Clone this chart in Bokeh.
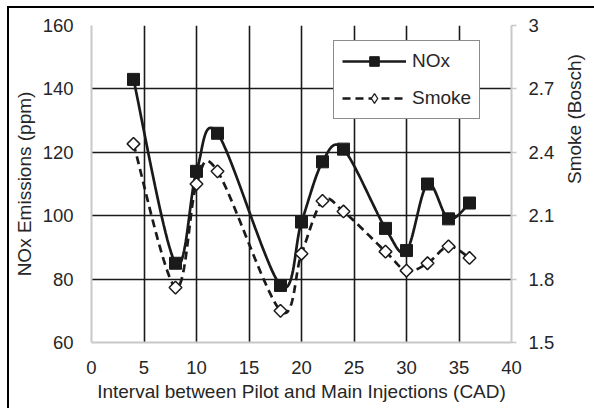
import math
from bokeh.plotting import figure
from bokeh.models import (Range1d, LinearAxis, FixedTicker, Legend, LegendItem,
                          CustomJSTickFormatter)
from bokeh.embed import file_html
from bokeh.resources import INLINE

# ---- data ----
interval = [4, 8, 10, 12, 18, 20, 22, 24, 28, 30, 32, 34, 36]
nox = [143, 85, 114, 126, 78, 98, 117, 121, 96, 89, 110, 99, 104]
smoke = [2.44, 1.76, 2.25, 2.31, 1.65, 1.92, 2.17, 2.12, 1.93, 1.84, 1.875, 1.955, 1.90]
x_ticks = [0, 5, 10, 15, 20, 25, 30, 35, 40]
nox_ticks = [60, 80, 100, 120, 140, 160]
smoke_ticks = [1.5, 1.8, 2.1, 2.4, 2.7, 3.0]


def smooth(xs, ys, n=24):
    """Excel-like smoothed line (Catmull-Rom -> cubic Bezier) through the data points."""
    pts = list(zip(xs, ys))
    ox, oy = [pts[0][0]], [pts[0][1]]
    for i in range(len(pts) - 1):
        p0 = pts[i - 1] if i > 0 else pts[i]
        p1 = pts[i]
        p2 = pts[i + 1]
        p3 = pts[i + 2] if i + 2 < len(pts) else pts[i + 1]
        c1 = (p1[0] + (p2[0] - p0[0]) / 6.0, p1[1] + (p2[1] - p0[1]) / 6.0)
        c2 = (p2[0] - (p3[0] - p1[0]) / 6.0, p2[1] - (p3[1] - p1[1]) / 6.0)
        for k in range(1, n + 1):
            t = k / n
            a = (1 - t) ** 3
            b = 3 * (1 - t) ** 2 * t
            c = 3 * (1 - t) * t ** 2
            d = t ** 3
            ox.append(a * p1[0] + b * c1[0] + c * c2[0] + d * p2[0])
            oy.append(a * p1[1] + b * c1[1] + c * c2[1] + d * p2[1])
    return ox, oy


TEXT = "#262626"
FONT = "Liberation Sans"
AXIS_GRAY = "#c8c8c8"
INK = "#1a1a1a"
TICK_FS = "18.5px"
TITLE_FS = "19px"

p = figure(frame_width=420, frame_height=317,
           min_border_left=82, min_border_right=80, min_border_top=17, min_border_bottom=66,
           x_range=Range1d(0, 40), y_range=Range1d(60, 160),
           output_backend="svg", toolbar_location=None)
p.styles = {"margin-left": "7px", "margin-top": "6px",
            "border-top": "2px solid black", "border-left": "2px solid black"}
p.outline_line_color = None
p.background_fill_color = "white"
p.border_fill_color = "white"

p.extra_y_ranges = {"smoke": Range1d(1.5, 3.0)}

# grids (black, interior only)
p.xgrid.ticker = FixedTicker(ticks=x_ticks[1:-1])
p.ygrid.ticker = FixedTicker(ticks=nox_ticks[1:])
for g in (p.xgrid, p.ygrid):
    g.grid_line_color = INK
    g.grid_line_width = 1.6

# bottom axis
xa = p.xaxis[0]
xa.ticker = FixedTicker(ticks=x_ticks)
xa.axis_label = "Interval between Pilot and Main Injections (CAD)"
# left axis
ya = p.yaxis[0]
ya.ticker = FixedTicker(ticks=nox_ticks)
ya.axis_label = "NOx Emissions (ppm)"

# right axis
ra = LinearAxis(y_range_name="smoke", ticker=FixedTicker(ticks=smoke_ticks),
                axis_label="Smoke (Bosch)",
                formatter=CustomJSTickFormatter(code="return String(Math.round(tick*10)/10);"))
p.add_layout(ra, "right")
try:
    ra.axis_label_orientation = math.pi / 2
except Exception:
    pass

for ax in (xa, ya, ra):
    ax.axis_line_color = AXIS_GRAY
    ax.axis_line_width = 2
    ax.major_tick_line_color = AXIS_GRAY
    ax.major_tick_line_width = 1.5
    ax.minor_tick_line_color = None
    ax.major_tick_in = 0
    ax.major_tick_out = 0
    ax.major_label_text_font = FONT
    ax.major_label_text_font_size = TICK_FS
    ax.major_label_text_color = TEXT
    ax.axis_label_text_font = FONT
    ax.axis_label_text_font_size = TITLE_FS
    ax.axis_label_text_font_style = "normal"
    ax.axis_label_text_color = TEXT

xa.major_label_standoff = 18
xa.axis_label_standoff = 4
ya.major_label_standoff = 18
ya.axis_label_standoff = 5
ra.major_tick_out = 5
ra.major_label_standoff = 12
ra.axis_label_standoff = 17

# series
xs, ys = smooth(interval, nox)
l1 = p.line(xs, ys, line_color=INK, line_width=2.7)
s1 = p.scatter(interval, nox, marker="square", size=12, fill_color=INK, line_color=INK)

xs2, ys2 = smooth(interval, smoke)
l2 = p.line(xs2, ys2, line_color=INK, line_width=2.7, line_dash="8 5",
            y_range_name="smoke")
# diamond renderer (used for the legend swatch; fully covered by the square-diamonds below)
s2_key = p.scatter(interval, smoke, marker="diamond", size=11, fill_color="white",
                   line_color=INK, line_width=1.3, y_range_name="smoke")
s2 = p.scatter(interval, smoke, marker="square", angle=0.7853981634, size=9,
               fill_color="white", line_color=INK, line_width=1.5,
               y_range_name="smoke")

legend = Legend(items=[LegendItem(label="NOx", renderers=[l1, s1]),
                       LegendItem(label="Smoke", renderers=[l2, s2_key])],
                location=(242, 223))
legend.border_line_color = INK
legend.border_line_width = 1.5
legend.background_fill_color = "white"
legend.background_fill_alpha = 1.0
legend.label_text_font = FONT
legend.label_text_font_size = TITLE_FS
legend.label_text_color = TEXT
legend.glyph_width = 64
legend.glyph_height = 24
legend.label_standoff = 6
legend.label_width = 58
legend.padding = 8
legend.spacing = 13
legend.margin = 0
p.add_layout(legend, "center")

open("out.html", "w").write(file_html(p, INLINE))
